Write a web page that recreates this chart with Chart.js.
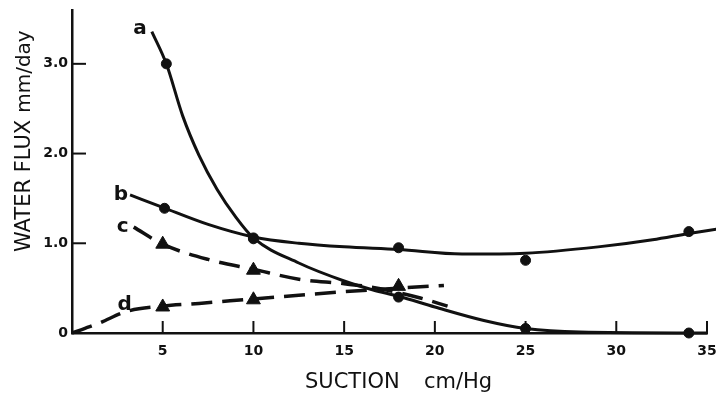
<!DOCTYPE html>
<html>
<head>
<meta charset="utf-8">
<script src="https://cdn.jsdelivr.net/npm/chart.js@4.4.1/dist/chart.umd.min.js"></script>
<style>
  html, body { margin: 0; padding: 0; background: #fff; }
  #fluxChart { display: block; }
</style>
</head>
<body>
<canvas id="fluxChart" width="716" height="393"></canvas>
<script>
// curve traces (suction cm/Hg -> water flux mm/day)
const curveAx = [4.4, 5.2, 6.1, 7, 8, 9, 10, 12.5, 15, 16.6, 18, 20, 22.7, 25, 28, 35];
const curveAy = [3.36, 3.0, 2.42, 1.98, 1.60, 1.30, 1.06, 0.78, 0.58, 0.48, 0.41, 0.29, 0.14, 0.05, 0.01, 0.0];

const curveBx = [3.2, 5, 7.5, 10, 12.5, 15, 18, 21.5, 25, 29, 32, 34, 35.6];
const curveBy = [1.54, 1.40, 1.21, 1.07, 1.0, 0.96, 0.93, 0.88, 0.89, 0.96, 1.04, 1.11, 1.16];

const curveCx = [3.4, 5, 7.5, 10, 12.5, 15, 16.5, 18, 19.2, 20.7];
const curveCy = [1.18, 0.99, 0.82, 0.71, 0.60, 0.55, 0.51, 0.45, 0.39, 0.30];

const curveDx = [0, 1.5, 3, 5, 7, 10, 12.5, 15, 18, 20.5];
const curveDy = [0, 0.11, 0.24, 0.30, 0.33, 0.38, 0.42, 0.46, 0.50, 0.53];

// measured points
const circleAx = [5.2, 10, 18, 25, 34];
const circleAy = [3.0, 1.05, 0.40, 0.05, 0.0];
const circleBx = [5.1, 10, 18, 25, 34];
const circleBy = [1.39, 1.06, 0.95, 0.81, 1.13];
const triangleCx = [5, 10];
const triangleCy = [0.99, 0.70];
const triangleDx = [5, 10, 18];
const triangleDy = [0.29, 0.37, 0.52];

// axis ticks
const xTickValues = [5, 10, 15, 20, 25, 30, 35];
const xTickLabels = ['5', '10', '15', '20', '25', '30', '35'];
const yTickValues = [0, 1, 2, 3];
const yTickLabels = ['0', '1.0', '2.0', '3.0'];

const pts = (xs, ys) => xs.map((x, i) => ({x: x, y: ys[i]}));

const INK = '#111';
const DASH = [21, 10];

function curve(xs, ys, dashed) {
  return {
    data: pts(xs, ys),
    showLine: true,
    borderColor: INK,
    borderWidth: dashed ? 3.5 : 3,
    borderDash: dashed ? DASH : [],
    pointRadius: 0,
    cubicInterpolationMode: 'monotone',
    fill: false,
    clip: false
  };
}

function markers(xs, ys, style, radius) {
  return {
    data: pts(xs, ys),
    showLine: false,
    pointStyle: style,
    pointRadius: radius,
    pointBackgroundColor: INK,
    pointBorderColor: INK,
    pointBorderWidth: 1,
    clip: false
  };
}

// inward tick marks, axis titles and the a-d curve labels
const decorPlugin = {
  id: 'decorPlugin',
  afterDraw(chart) {
    const {ctx, chartArea} = chart;
    const xs = chart.scales.x, ys = chart.scales.y;
    ctx.save();
    ctx.strokeStyle = INK;
    ctx.lineWidth = 2;
    xTickValues.forEach(v => {
      const px = xs.getPixelForValue(v);
      ctx.beginPath();
      ctx.moveTo(px, chartArea.bottom);
      ctx.lineTo(px, chartArea.bottom - 12);
      ctx.stroke();
    });
    yTickValues.slice(1).forEach(v => {
      const py = ys.getPixelForValue(v);
      ctx.beginPath();
      ctx.moveTo(chartArea.left, py);
      ctx.lineTo(chartArea.left + 14, py);
      ctx.stroke();
    });

    ctx.fillStyle = INK;
    // x title
    ctx.font = '21px "DejaVu Sans"';
    ctx.textBaseline = 'alphabetic';
    ctx.textAlign = 'left';
    ctx.fillText('SUCTION', chartArea.left + 233, 388);
    ctx.fillText('cm/Hg', chartArea.left + 352, 388);

    // y title (rotated)
    ctx.save();
    ctx.translate(30, 252);
    ctx.rotate(-Math.PI / 2);
    ctx.font = '21px "DejaVu Sans"';
    ctx.fillText('WATER FLUX', 0, 0);
    const w = ctx.measureText('WATER FLUX').width;
    ctx.font = '20px "DejaVu Sans"';
    ctx.fillText('mm/day', w + 7, 0);
    ctx.restore();

    // curve letters
    ctx.font = 'bold 20px "DejaVu Sans"';
    ctx.textAlign = 'center';
    ctx.textBaseline = 'middle';
    const letters = [
      ['a', 3.75, 3.39],
      ['b', 2.7, 1.54],
      ['c', 2.8, 1.18],
      ['d', 2.9, 0.31]
    ];
    letters.forEach(([t, x, y]) => {
      ctx.fillText(t, xs.getPixelForValue(x), ys.getPixelForValue(y));
    });
    ctx.restore();
  }
};

new Chart(document.getElementById('fluxChart'), {
  type: 'scatter',
  data: {
    datasets: [
      curve(curveAx, curveAy, false),
      curve(curveBx, curveBy, false),
      curve(curveCx, curveCy, true),
      curve(curveDx, curveDy, true),
      markers(circleAx, circleAy, 'circle', 5),
      markers(circleBx, circleBy, 'circle', 5),
      markers(triangleCx, triangleCy, 'triangle', 8),
      markers(triangleDx, triangleDy, 'triangle', 8)
    ]
  },
  options: {
    responsive: false,
    devicePixelRatio: 1,
    animation: false,
    layout: {padding: {top: 10, right: 9, left: 0, bottom: 0}},
    plugins: {
      legend: {display: false},
      tooltip: {enabled: false},
      title: {display: false}
    },
    scales: {
      x: {
        type: 'linear',
        min: 0,
        max: 35,
        afterFit: s => { s.height = 60; s.paddingLeft = 0; s.paddingRight = 0; },
        grid: {display: false, drawTicks: false},
        border: {display: true, color: INK, width: 2.5},
        ticks: {
          stepSize: 5,
          includeBounds: false,
          padding: 10,
          maxRotation: 0,
          color: INK,
          font: {family: 'DejaVu Sans', size: 14, weight: 'bold'},
          callback: v => {
            const i = xTickValues.indexOf(v);
            return i < 0 ? '' : xTickLabels[i];
          }
        }
      },
      y: {
        type: 'linear',
        min: 0,
        max: 3.6,
        afterFit: s => { s.width = 72; s.paddingTop = 0; s.paddingBottom = 0; },
        grid: {display: false, drawTicks: false},
        border: {display: true, color: INK, width: 2.5},
        ticks: {
          stepSize: 1,
          includeBounds: false,
          padding: 4,
          color: INK,
          font: {family: 'DejaVu Sans', size: 14, weight: 'bold'},
          callback: v => {
            const i = yTickValues.indexOf(v);
            return i < 0 ? '' : yTickLabels[i];
          }
        }
      }
    }
  },
  plugins: [decorPlugin]
});
</script>
</body>
</html>
